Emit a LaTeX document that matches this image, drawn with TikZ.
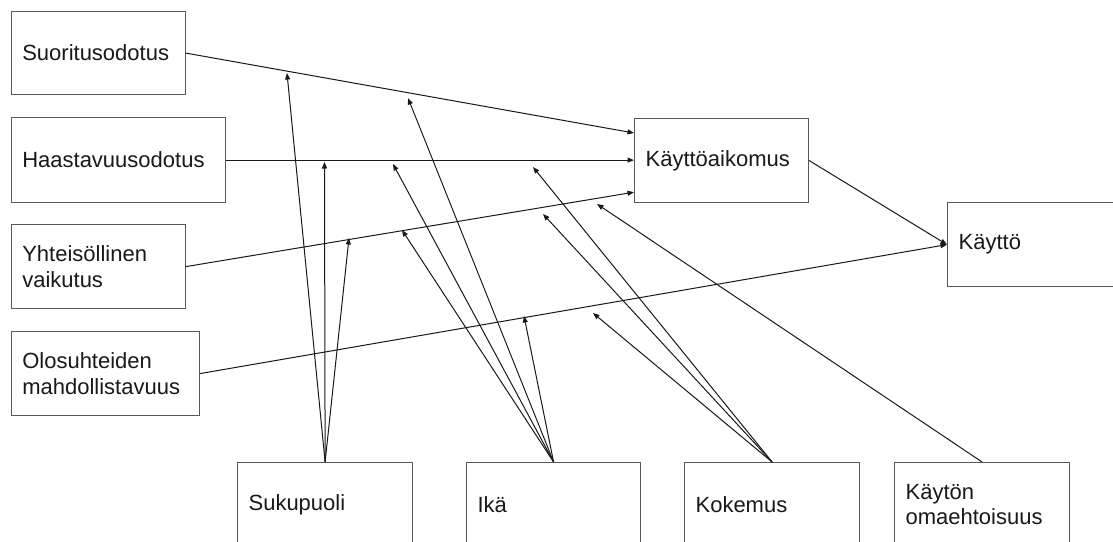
\documentclass[tikz,border=0pt]{standalone}
\usepackage{fontspec}
\setmainfont{Liberation Sans}
\usetikzlibrary{arrows.meta}

\tikzset{
  box/.style={draw=black!65, line width=1.2pt, rectangle, anchor=north west,
    inner xsep=11pt, inner ysep=0pt, align=left, minimum height=84pt,
    text=black!90, font=\fontsize{22}{25.5}\selectfont},
  link/.style={draw=black!90, line width=1pt,
    -{Triangle[length=6.5pt,width=5pt]}},
}

\begin{document}
\begin{tikzpicture}[x=1pt,y=-1pt]
  \useasboundingbox (0,0) rectangle (1113,541);
  \clip (0,0) rectangle (1113,541);
  \fill[white] (0,0) rectangle (1113,541);

  % predictors
  \node[box, text width=152pt, minimum height=83pt] (suor) at (10.7,11) {Suoritusodotus};
  \node[box, text width=192pt, minimum height=85pt] (haas) at (10.7,117) {Haastavuusodotus};
  \node[box, text width=152pt] (yht) at (10.7,224) {Yhteisöllinen\\vaikutus};
  \node[box, text width=166pt] (olo) at (10.7,331) {Olosuhteiden\\mahdollistavuus};

  % outcomes
  \node[box, text width=152pt] (aik) at (634,118) {Käyttöaikomus};
  \node[box, text width=152pt] (kay) at (947,202) {Käyttö};

  % moderators
  \node[box, text width=153pt] (suk) at (237,462) {Sukupuoli};
  \node[box, text width=152pt] (ika) at (466,462) {Ikä};
  \node[box, text width=153pt] (kok) at (684,462) {Kokemus};
  \node[box, text width=153pt] (oma) at (894,462) {Käytön\\omaehtoisuus};

  % main paths
  \draw[link] (suor.east) -- ([yshift=-15pt]aik.north west);
  \draw[link] (haas.east) -- (haas.east -| aik.west);
  \draw[link] (yht.east) -- ([yshift=11pt]aik.south west);
  \draw[link] (olo.east) -- (kay.west);
  \draw[link] (aik.east) -- (kay.west);

  % moderator targets
  \coordinate (s1) at (287,73);
  \coordinate (s2) at (324.5,162);
  \coordinate (s3) at (349,238);
  \coordinate (i1) at (408,98);
  \coordinate (i2) at (393,164);
  \coordinate (i3) at (402,230);
  \coordinate (i4) at (524,316);
  \coordinate (k1) at (533,167);
  \coordinate (k2) at (543,214);
  \coordinate (k3) at (593,313);
  \coordinate (o1) at (597,204);

  % moderator effects
  \foreach \t in {s1,s2,s3} \draw[link] (suk.north) -- (\t);
  \foreach \t in {i1,i2,i3,i4} \draw[link] (ika.north) -- (\t);
  \foreach \t in {k1,k2,k3} \draw[link] (kok.north) -- (\t);
  \draw[link] (oma.north) -- (o1);
\end{tikzpicture}
\end{document}
